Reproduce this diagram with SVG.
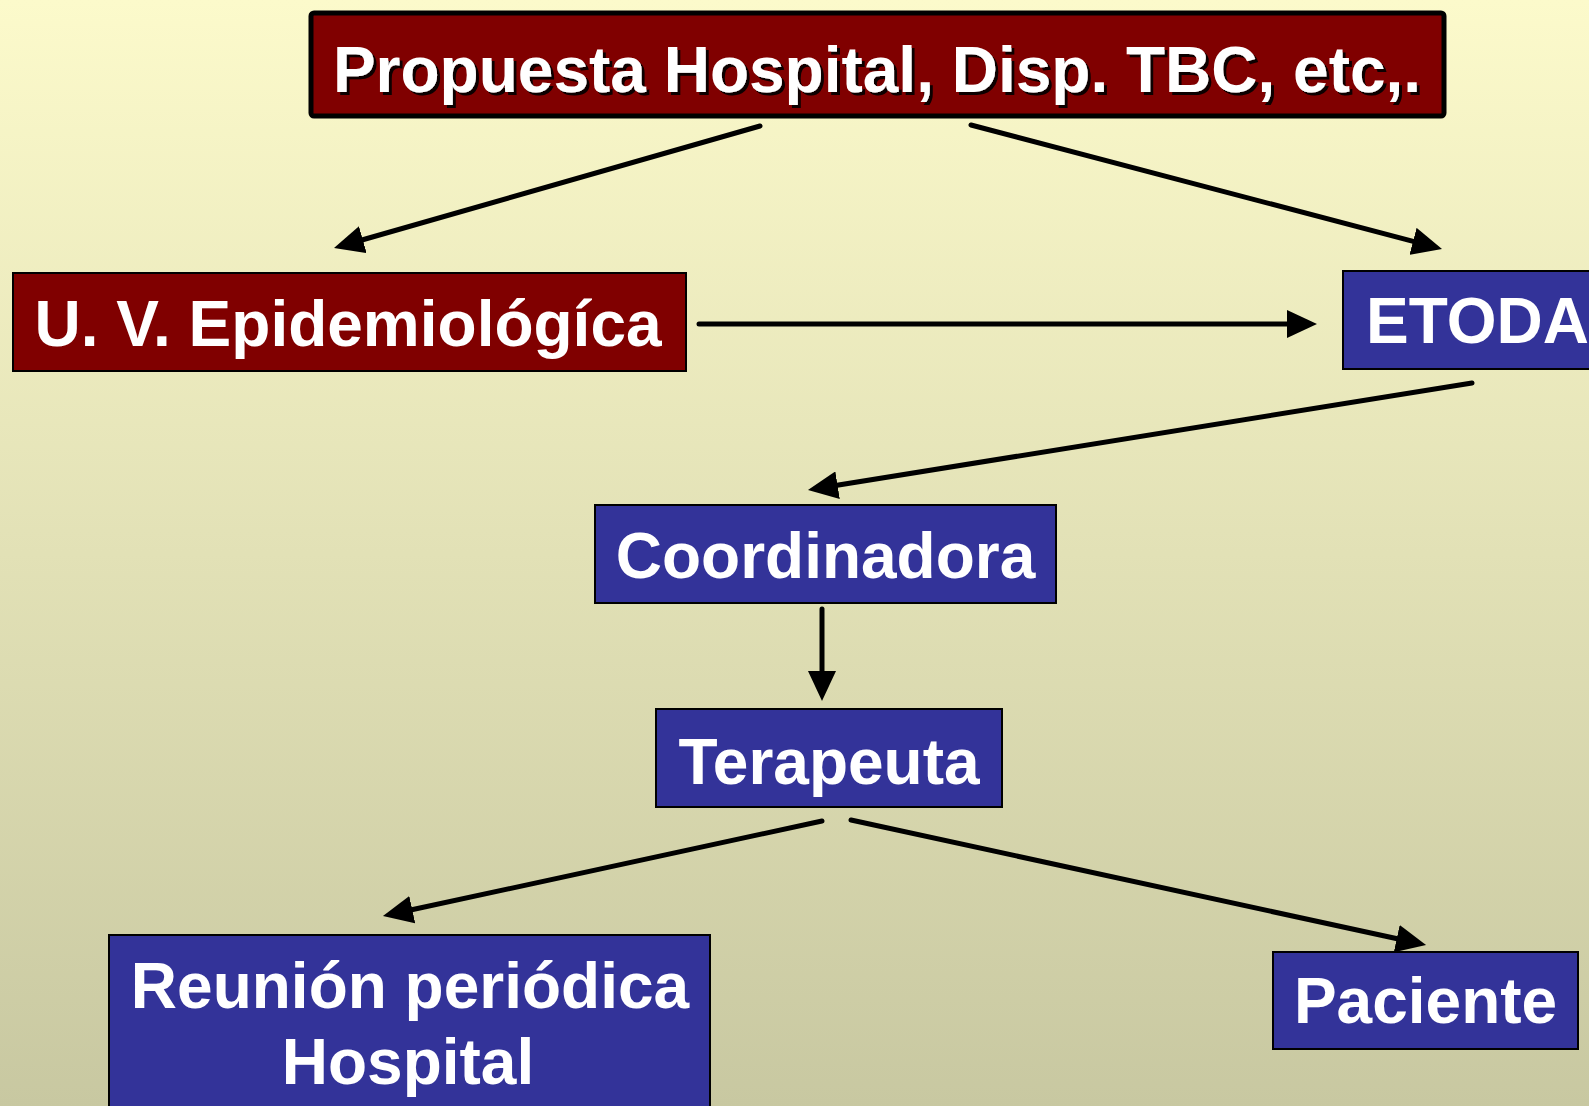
<svg xmlns="http://www.w3.org/2000/svg" width="1589" height="1106" viewBox="0 0 1589 1106">
  <defs>
    <linearGradient id="bg" x1="0" y1="0" x2="0" y2="1">
      <stop offset="0" stop-color="#FCFACB"/>
      <stop offset="1" stop-color="#C8C8A1"/>
    </linearGradient>
    <marker id="ah" viewBox="0 0 30 28" refX="10" refY="14" markerWidth="30" markerHeight="28" markerUnits="userSpaceOnUse" orient="auto">
      <path d="M0,0 L30,14 L0,28 z" fill="#000"/>
    </marker>
    <filter id="shadow" x="-5%" y="-20%" width="110%" height="140%">
      <feDropShadow dx="3" dy="3" stdDeviation="0.6" flood-color="#000" flood-opacity="0.9"/>
    </filter>
  </defs>
  <style>
    .red { fill: #800000; stroke: #000; stroke-width: 2; }
    .blue { fill: #333399; stroke: #000; stroke-width: 2; }
    .lbl { font-family: "Liberation Sans", Arial, Helvetica, sans-serif; font-weight: bold; font-size: 64px; fill: #fff; }
    .conn line { stroke: #000; stroke-width: 5; stroke-linecap: round; marker-end: url(#ah); }
  </style>
  <rect x="0" y="0" width="1589" height="1106" fill="url(#bg)"/>

  <g id="node-propuesta">
    <rect x="311" y="13" width="1133" height="103" rx="3" fill="#800000" stroke="#000" stroke-width="5"/>
    <text class="lbl" x="877" y="92" text-anchor="middle" filter="url(#shadow)">Propuesta Hospital, Disp. TBC, etc,.</text>
  </g>

  <g id="node-uv">
    <rect class="red" x="13" y="273" width="673" height="98"/>
    <text class="lbl" x="348" y="346" text-anchor="middle">U. V. Epidemiológíca</text>
  </g>

  <g id="node-etoda">
    <rect class="blue" x="1343" y="271" width="260" height="98"/>
    <text class="lbl" x="1366" y="343">ETODA</text>
  </g>

  <g id="node-coordinadora">
    <rect class="blue" x="595" y="505" width="461" height="98"/>
    <text class="lbl" x="825.5" y="578" text-anchor="middle">Coordinadora</text>
  </g>

  <g id="node-terapeuta">
    <rect class="blue" x="656" y="709" width="346" height="98"/>
    <text class="lbl" x="829" y="784" text-anchor="middle">Terapeuta</text>
  </g>

  <g id="node-reunion">
    <rect class="blue" x="109" y="935" width="601" height="180"/>
    <text class="lbl" x="410" y="1008" text-anchor="middle">Reunión periódica</text>
    <text class="lbl" x="408" y="1084" text-anchor="middle">Hospital</text>
  </g>

  <g id="node-paciente">
    <rect class="blue" x="1273" y="952" width="305" height="97"/>
    <text class="lbl" x="1425.5" y="1023" text-anchor="middle">Paciente</text>
  </g>

  <g id="connectors" class="conn">
    <line x1="760" y1="126" x2="353.2" y2="242.5"/>
    <line x1="971" y1="125" x2="1422.7" y2="243.9"/>
    <line x1="699" y1="324" x2="1297" y2="324"/>
    <line x1="1472" y1="383" x2="827.7" y2="486.8"/>
    <line x1="822" y1="609" x2="822" y2="681"/>
    <line x1="822" y1="821" x2="402.5" y2="911.8"/>
    <line x1="851" y1="820" x2="1406.5" y2="940.8"/>
  </g>
</svg>
